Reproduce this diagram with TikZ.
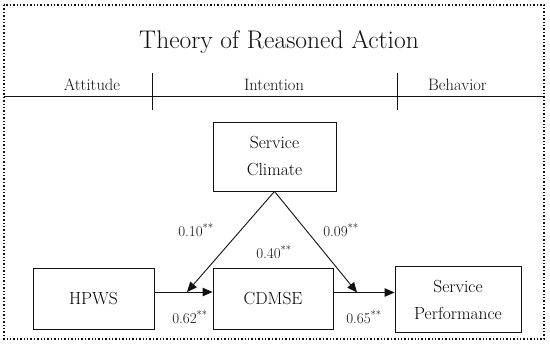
\documentclass[tikz,border=0pt]{standalone}
\usepackage{xcolor}
\usepackage{tikz}
\usetikzlibrary{arrows.meta,positioning,calc}
\definecolor{ink}{HTML}{111111}
\definecolor{paper}{HTML}{FFFFFF}
\tikzset{
  box/.style={rectangle, draw=ink, fill=paper, line width=0.9pt, align=center,
              font=\fontsize{17.5}{27}\selectfont, inner sep=0pt},
  frame/.style={draw=ink, dotted, line width=1.4pt},
  rul/.style={draw=ink, line width=0.9pt},
  fl/.style={-{Triangle[length=10pt,width=8.5pt]}, draw=ink, line width=0.9pt},
  coef/.style={font=\fontsize{15}{18}\selectfont, text=ink},
  stage/.style={font=\fontsize{16.5}{19}\selectfont, text=ink, anchor=base},
  ttl/.style={font=\fontsize{25.5}{30}\selectfont, text=ink, anchor=base}
}
\newcommand{\pcoef}[1]{#1\textsuperscript{**}}
\begin{document}
\begin{tikzpicture}[x=1pt, y=-1pt]
  \useasboundingbox (0,0) rectangle (550,345);
  % outer frame and stage header
  \coordinate (tl) at (4,5);
  \coordinate (br) at (544,339);
  \draw[frame] (tl) rectangle (br);
  \node[ttl] (title) at (279,48.3) {Theory of Reasoned Action};
  \draw[rul] (tl |- 0,96) -- (br |- 0,96);
  \draw[rul] (152.5,73) -- (152.5,110);
  \draw[rul] (397.5,73) -- (397.5,110);
  \node[stage] (att) at (92,90.7) {Attitude};
  \node[stage] (int) at (274,90.7) {Intention};
  \node[stage] (beh) at (457.5,90.7) {Behavior};
  % constructs
  \node[box, minimum width=123pt, minimum height=69pt] (sc) at (274.5,156.5) {Service\\Climate};
  \node[box, minimum width=121pt, minimum height=61pt] (hpws) at (93.5,298.5) {HPWS};
  \node[box, minimum width=120pt, minimum height=61pt] (cdmse) at (273,298.5) {CDMSE};
  \node[box, minimum width=126pt, minimum height=66pt] (perf) at (458,299.5) {Service\\Performance};
  \coordinate (m1) at (187,292);
  \coordinate (m2) at (357,292.5);
  % paths
  \draw[fl] ([yshift=6.5pt]hpws.east) -- ([yshift=6.5pt]hpws.east -| cdmse.west);
  \draw[fl] ([yshift=6pt]cdmse.east) -- ([yshift=6pt]cdmse.east -| perf.west);
  \draw[fl] (sc.south) -- (m1);
  \draw[fl] (sc.south) -- (m2);
  \node[coef] (b1) at (196,230.5) {\pcoef{0.10}};
  \node[coef] (b2) at (341,230.5) {\pcoef{0.09}};
  \node[coef] (b3) at (274,252) {\pcoef{0.40}};
  \node[coef] (b4) at (190,317) {\pcoef{0.62}};
  \node[coef] (b5) at (364,317) {\pcoef{0.65}};
\end{tikzpicture}
\end{document}
